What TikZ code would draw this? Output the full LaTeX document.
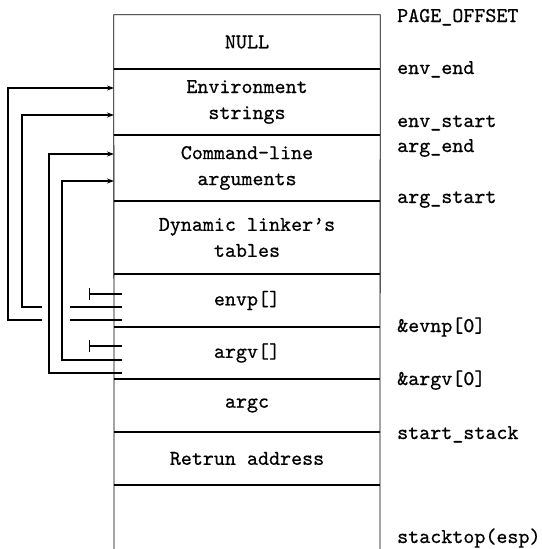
\documentclass[tikz,border=0pt]{standalone}
\usepackage{fontspec}
\setmonofont{lmmono10-regular.otf}[FakeBold=0.6]
\usetikzlibrary{arrows.meta}

\tikzset{
    cell/.style = {minimum width = 266pt, inner sep = 0pt, align = center,
        font = \ttfamily\fontsize{21}{26}\selectfont},
    addr/.style = {anchor = base west, inner sep = 0pt,
        font = \ttfamily\fontsize{21}{26}\selectfont},
    side/.style = {line width = 0.8pt},
    sep/.style = {line width = 1.9pt},
    ptr/.style = {line width = 1.1pt},
    slot/.style = {ptr, -{Bar[width = 12pt]}},
}

\begin{document}
\begin{tikzpicture}[x = 1pt, y = -1pt, >={Stealth[length = 7pt, width = 5pt]}]
    \useasboundingbox (0, 0) rectangle (541, 549);

    % the stack, top to bottom
    \node[cell, minimum height = 54pt] (null) at (247, 42) {NULL};
    \node[cell, minimum height = 66pt] (env) at (247, 102) {Environment\\strings};
    \node[cell, minimum height = 66pt] (cmd) at (247, 168) {Command-line\\arguments};
    \node[cell, minimum height = 73pt] (dyn) at (247, 237.5) {Dynamic linker’s\\tables};
    \node[cell, minimum height = 53pt] (envp) at (247, 300.5) {envp[]};
    \node[cell, minimum height = 52pt] (argv) at (247, 353) {argv[]};
    \node[cell, minimum height = 53pt] (argc) at (247, 405.5) {argc};
    \node[cell, minimum height = 53pt] (ret) at (247, 458.5) {Retrun address};

    \draw[side] (114, 549) -- (null.north west) -- (null.north east) -- (380, 549);
    \foreach \c in {null, env, cmd, dyn, envp, argv, argc, ret}
        \draw[sep] (\c.south west) -- (\c.south east);

    % addresses on the right
    \node[addr] (pageoff) at (397, 22) {PAGE\_OFFSET};
    \node[addr] (envend) at (397, 74) {env\_end};
    \node[addr] (envstart) at (397, 127) {env\_start};
    \node[addr] (argend) at (397, 152) {arg\_end};
    \node[addr] (argstart) at (397, 203) {arg\_start};
    \node[addr] (envp0) at (397, 332) {\&evnp[0]};
    \node[addr] (argv0) at (397, 385) {\&argv[0]};
    \node[addr] (startstack) at (397, 439) {start\_stack};
    \node[addr] (stacktop) at (397, 543) {stacktop(esp)};

    % pointer slots and where they point
    \coordinate (es1) at (114, 88);
    \coordinate (es2) at (114, 115);
    \coordinate (as1) at (114, 154);
    \coordinate (as2) at (114, 181);
    \coordinate (ep0) at (122, 294);
    \coordinate (ep1) at (122, 307);
    \coordinate (ep2) at (122, 320);
    \coordinate (av0) at (122, 346);
    \coordinate (av1) at (122, 360);
    \coordinate (av2) at (122, 373);

    \draw[slot] (ep0) -- ++(-33, 0);
    \draw[ptr] (ep1) -- ++(-52, 0);
    \draw[ptr, ->] ([xshift = -80pt] ep1) -- ++(-20, 0) |- (es2);
    \draw[ptr] (ep2) -- ++(-52, 0);
    \draw[ptr, ->] ([xshift = -80pt] ep2) -- ++(-34, 0) |- (es1);

    \draw[slot] (av0) -- ++(-33, 0);
    \draw[ptr, ->] (av1) -- ++(-60, 0) |- (as2);
    \draw[ptr, ->] (av2) -- ++(-73, 0) |- (as1);
\end{tikzpicture}
\end{document}
